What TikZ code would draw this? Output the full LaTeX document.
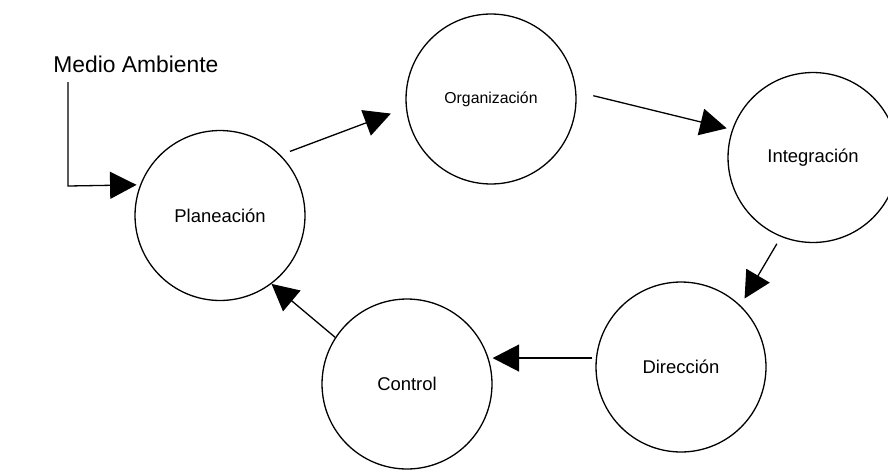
\documentclass[tikz,border=0pt]{standalone}
\usepackage{fontspec}
\setmainfont{Liberation Sans}
\usetikzlibrary{arrows.meta}
\tikzset{
  etapa/.style={draw, circle, line width=0.026cm, minimum size=3.4cm, inner sep=0pt,
    font=\fontsize{10.5}{12}\selectfont},
  flecha/.style={line width=0.026cm, -{Triangle[length=0.53cm,width=0.54cm]}},
}
\begin{document}
\begin{tikzpicture}[x=0.02cm,y=-0.02cm]
                \useasboundingbox (0,0) rectangle (888,470);

                % Drawing circle Planeacion
                \node [etapa] (plan) at (220,215.5) {Planeación};%

                % Drawing circle Organizacion
                \node [etapa, font=\fontsize{9}{11}\selectfont] (org) at (491,99) {Organización};%

                % Drawing circle Integracion
                \node [etapa] (integ) at (813,157.5) {Integración};%

                % Drawing circle Direccion
                \node [etapa] (dir) at (681,367) {Dirección};%

                % Drawing circle Control
                \node [etapa] (ctrl) at (407,384) {Control};%

                % Marking the environment
                \node [anchor=base west, inner sep=0pt, font=\fontsize{13}{15}\selectfont] (medio) at (53,72) {Medio Ambiente};%
                \coordinate (amb) at (68,82);%
                \coordinate (esq) at (68,186);%

                % Drawing the arrows of the cycle
                \draw [flecha, shorten <=0.2cm, shorten >=0.32cm] (plan.45) -- (org.186);%
                \draw [flecha, shorten <=0.35cm, shorten >=0.11cm] (org.5) -- (integ.161);%
                \draw [flecha, shorten <=0.16cm, shorten >=0.16cm] (integ.248.5) -- (dir.46);%
                \draw [flecha, shorten <=0.07cm] (dir.174) -- (ctrl.east |- dir.174);%
                \draw [flecha] (ctrl.147) -- (plan.307.5);%

                % Drawing the arrow of the environment
                \draw [flecha, shorten >=0.07cm] (amb) -- (esq) -- (plan.159);%
\end{tikzpicture}
\end{document}
